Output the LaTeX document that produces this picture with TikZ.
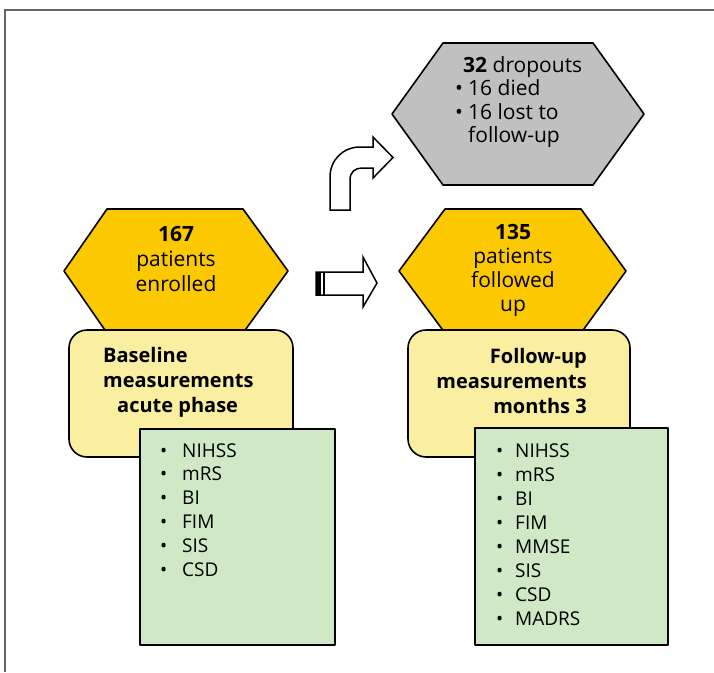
\documentclass[tikz,border=0pt]{standalone}
\usepackage{fontspec}
\setmainfont{Open Sans}
\definecolor{hexyellow}{RGB}{252,200,0}
\definecolor{boxyellow}{RGB}{250,238,160}
\definecolor{listgreen}{RGB}{208,232,198}
\definecolor{dropgray}{RGB}{192,192,192}
\definecolor{framegray}{RGB}{100,100,100}
\tikzset{
  outline/.style = {draw=black, line width=1.6pt, line join=round},
  hextext/.style = {align=center, inner sep=0pt, font=\fontsize{21}{25}\selectfont},
  boxtext/.style = {inner sep=0pt, font=\bfseries\fontsize{20}{25}\selectfont},
  listitem/.style = {anchor=base west, inner sep=0pt, font=\fontsize{19}{24}\selectfont},
  blockarrow/.style = {draw=black, fill=white, line width=1.5pt, line join=miter}
}

\begin{document}
\begin{tikzpicture}[x=1pt, y=-1pt]
\useasboundingbox (0,0) rectangle (714,672);
\draw[framegray, line width=1.5pt] (5,672) -- (5,10) -- (714,10);

% dropouts
\draw[outline, fill=dropgray] (443,43) -- (593,43) -- (644,114) -- (593,185) -- (443,185) -- (392,114) -- cycle;
\node[hextext, align=left, anchor=north west, font=\fontsize{21}{23.5}\selectfont] (dropouts) at (455,56)
  {\hspace*{8pt}\textbf{32} dropouts\\\makebox[13pt][l]{•}16 died\\\makebox[13pt][l]{•}16 lost to\\\hspace*{13pt}follow-up};

% enrolled
\draw[outline, fill=hexyellow] (107,209) -- (243,209) -- (288,271) -- (243,333) -- (107,333) -- (64,271) -- cycle;
\node[hextext] (enrolled) at (176,259) {\textbf{167}\\patients\\enrolled};

% followed up
\draw[outline, fill=hexyellow] (445,209) -- (581,209) -- (626,271) -- (581,333) -- (445,333) -- (399,271) -- cycle;
\node[hextext, font=\fontsize{21}{24}\selectfont] (followed) at (513,270) {\textbf{135}\\patients\\followed\\up};

% measurement boxes
\draw[outline, fill=boxyellow, rounded corners=18pt] (69,330) rectangle (293,457);
\node[boxtext, align=left, anchor=north west] (baseline) at (103,347)
  {Baseline\\measurements\\\hspace*{14pt}acute phase};
\draw[outline, fill=boxyellow, rounded corners=18pt] (408,330) rectangle (630,457);
\node[boxtext, align=right, anchor=north east] (followup) at (587,348)
  {Follow-up\\measurements\\months 3};

% scales
\draw[outline, fill=listgreen] (140,429) rectangle (335,645);
\foreach \m [count=\i from 0] in {NIHSS,mRS,BI,FIM,SIS,CSD}
  \node[listitem] (base-\i) at (182,{457+23.8*\i}) {\llap{•\hspace{15pt}}\m};
\draw[outline, fill=listgreen] (475,428) rectangle (668,645);
\foreach \m [count=\i from 0] in {NIHSS,mRS,BI,FIM,MMSE,SIS,CSD,MADRS}
  \node[listitem] (follow-\i) at (515,{457+24*\i}) {\llap{•\hspace{12pt}}\m};

% arrows
\draw[blockarrow] (330,210) -- (330,177) .. controls (330,160) and (343,147) .. (360,147)
  -- (373,147) -- (373,137) -- (393,157.5) -- (373,178) -- (373,168) -- (362,168)
  .. controls (355,168) and (350,172) .. (350,180) -- (350,210) -- cycle;
\draw[blockarrow] (316,272) -- (363,272) -- (363,257) -- (377,283) -- (363,307) -- (363,295) -- (316,295) -- cycle;
\fill[black] (316,272) rectangle (321,295);
\draw[line width=1.2pt] (324,272) -- (324,295);
\end{tikzpicture}
\end{document}
